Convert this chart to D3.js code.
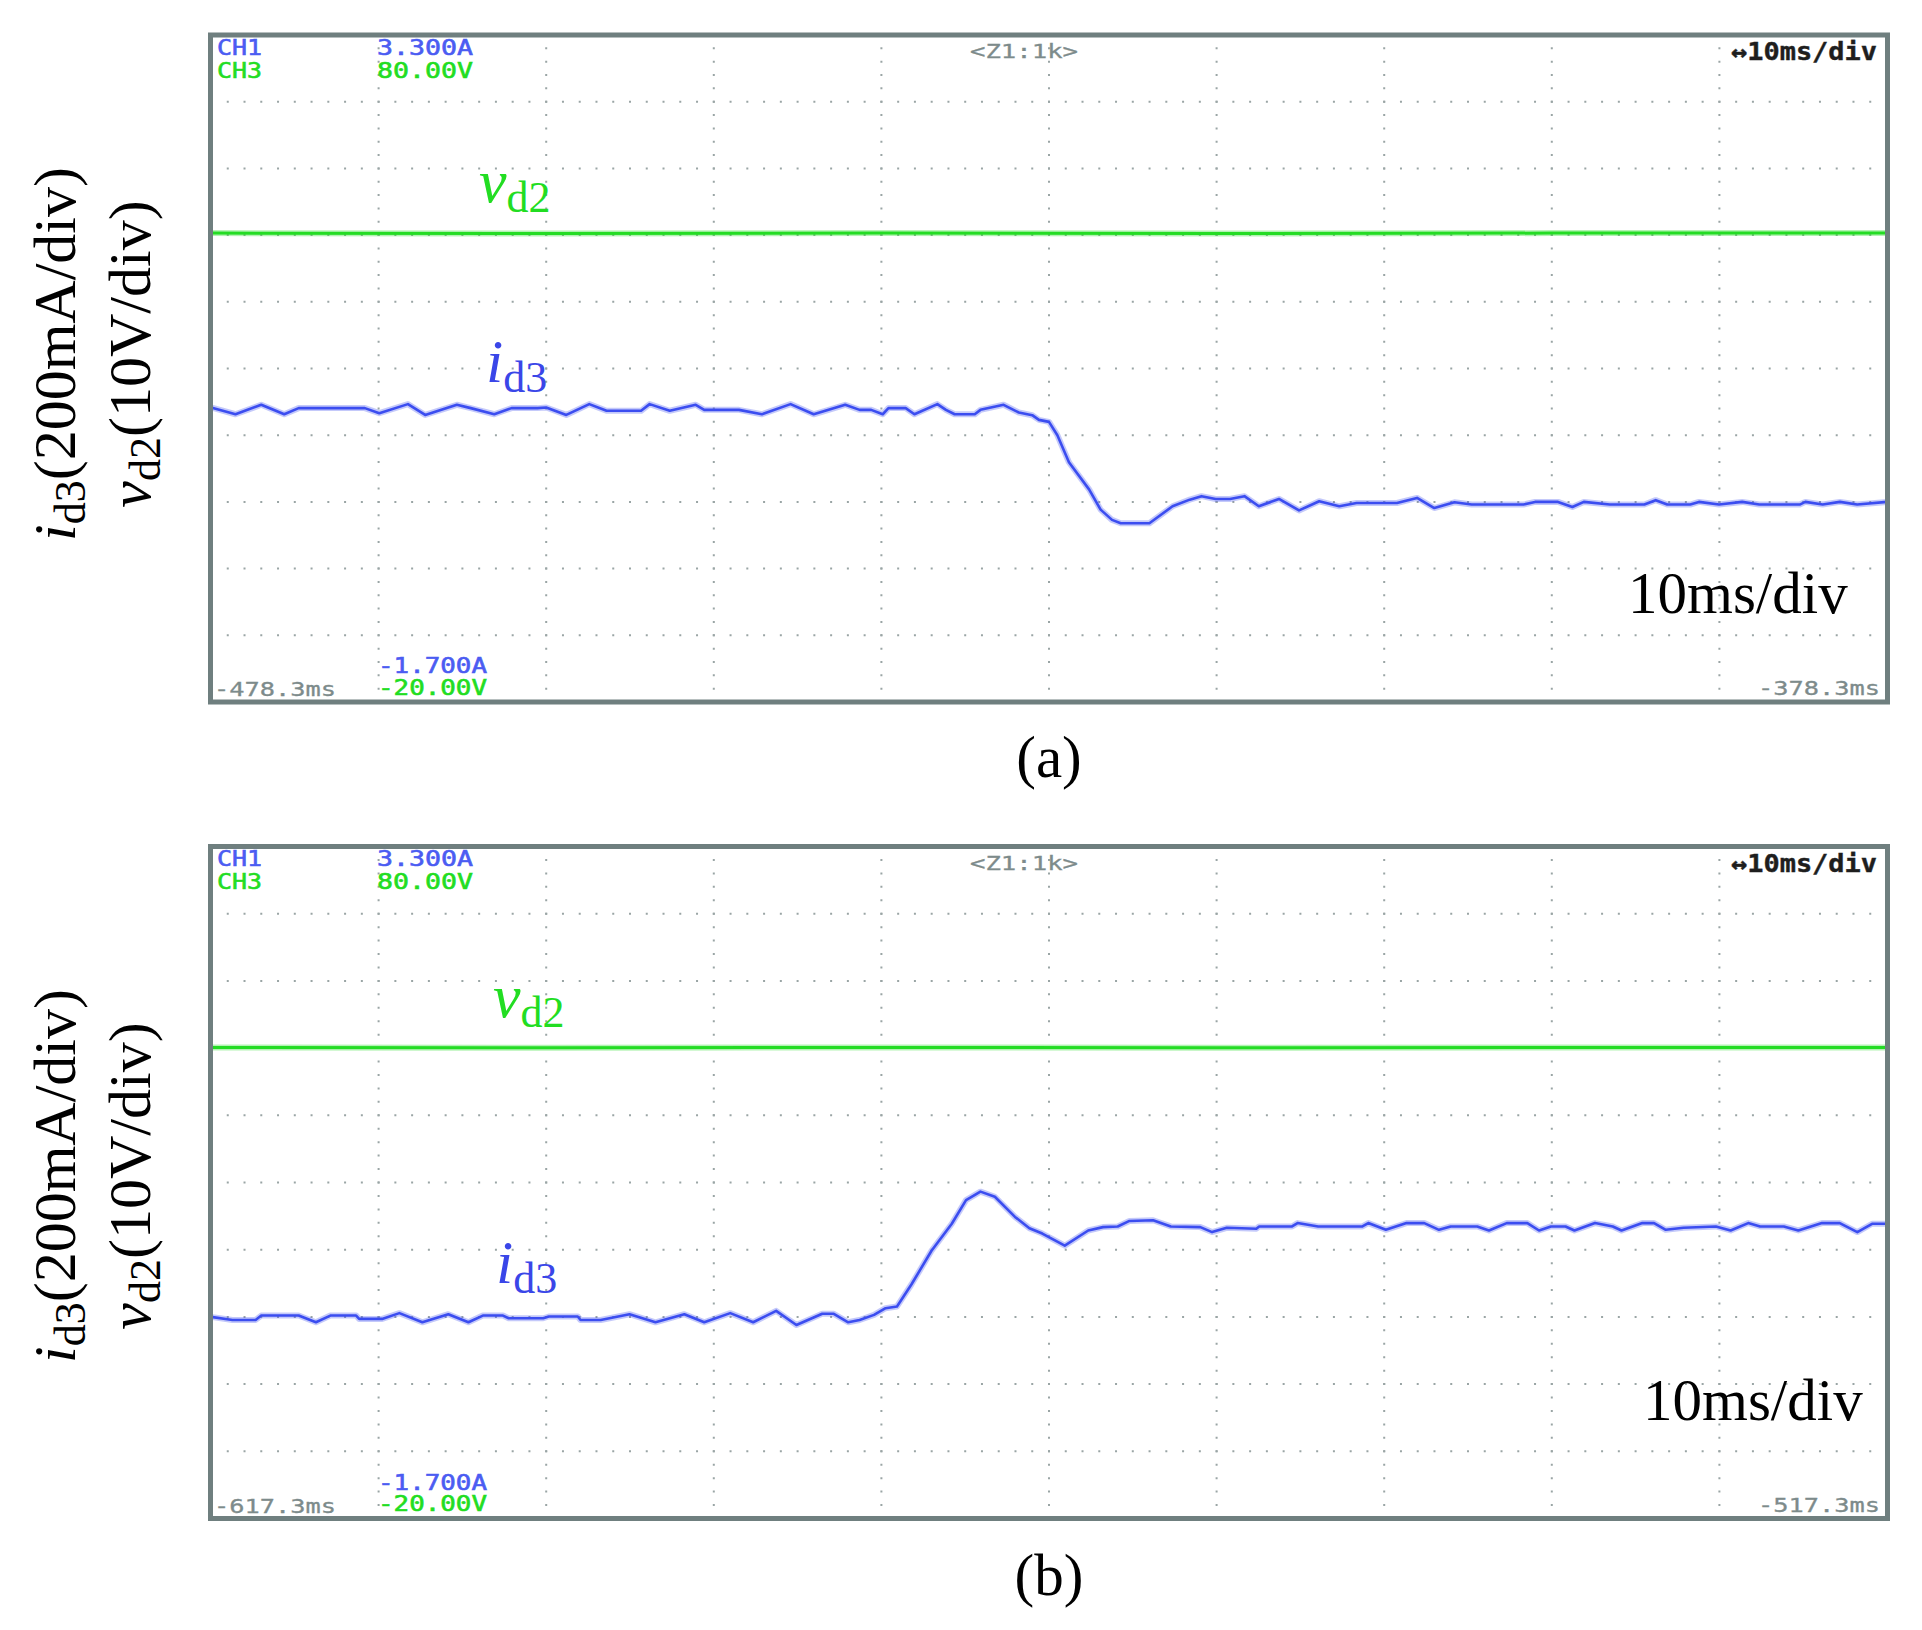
<!DOCTYPE html>
<html><head><meta charset="utf-8">
<script src="https://cdn.jsdelivr.net/npm/d3@7"></script>
<style>body{margin:0;background:#fff}</style>
</head><body>
<svg id="c" width="1922" height="1630" xmlns="http://www.w3.org/2000/svg"></svg>
<script>
// ---------------- DATA ----------------
// time in ms measured from the left edge of the screen (10 ms/div, 10 div)
const timeDomain = [0, 100];
// oscilloscope channel ranges (top / bottom of screen)
const currentDomain = [-1.7, 3.3];   // CH1, A
const voltageDomain = [-20, 80];     // CH3, V
const ch1Labels = ["3.300A", "-1.700A"];
const ch3Labels = ["80.00V", "-20.00V"];
const channelNames = ["CH1", "CH3"];
const zoomLabel = "<Z1:1k>";
const timebaseLabel = "\u219410ms/div";
const timeLabelsA = ["-478.3ms", "-378.3ms"];
const timeLabelsB = ["-617.3ms", "-517.3ms"];
const captions = ["(a)", "(b)"];

// panel (a): i_d3 [ms, A]
const id3A = [[0,0.508],[1.46,0.457],[3.0,0.528],[4.37,0.457],[5.23,0.503],[9.18,0.503],[10.04,0.465],[11.75,0.533],[12.78,0.452],[14.67,0.528],[15.5,0.503],[16.9,0.457],[17.93,0.503],[19.48,0.503],[20.0,0.508],[21.2,0.452],[22.57,0.533],[23.6,0.483],[25.66,0.483],[26.17,0.533],[27.37,0.483],[28.92,0.528],[29.43,0.49],[31.5,0.49],[32.87,0.457],[34.58,0.533],[35.96,0.457],[37.84,0.528],[38.7,0.49],[39.39,0.49],[40.08,0.457],[40.42,0.503],[41.45,0.503],[41.97,0.457],[43.34,0.533],[43.85,0.49],[44.37,0.457],[45.57,0.457],[45.91,0.49],[47.29,0.528],[48.2,0.47],[49.0,0.45],[49.4,0.415],[50.0,0.40],[50.5,0.30],[51.19,0.097],[52.39,-0.106],[53.08,-0.258],[53.76,-0.335],[54.28,-0.36],[55.99,-0.36],[57.37,-0.233],[58.4,-0.183],[59.1,-0.157],[59.94,-0.178],[60.8,-0.178],[61.66,-0.157],[62.52,-0.233],[63.72,-0.178],[64.92,-0.264],[66.12,-0.195],[67.32,-0.233],[68.35,-0.208],[70.76,-0.208],[71.96,-0.17],[72.99,-0.246],[74.19,-0.203],[75.22,-0.22],[78.31,-0.22],[79.0,-0.2],[80.37,-0.2],[81.23,-0.238],[81.91,-0.2],[83.46,-0.22],[85.52,-0.22],[86.2,-0.187],[86.89,-0.22],[88.26,-0.22],[88.78,-0.2],[89.98,-0.22],[91.36,-0.2],[92.38,-0.22],[94.79,-0.22],[95.13,-0.2],[96.16,-0.22],[97.19,-0.2],[98.22,-0.22],[100,-0.2]];
// panel (a): v_d2 [ms, V]
const vd2A = [[0,50.3],[20,50.25],[40,50.3],[60,50.25],[80,50.3],[100,50.3]];

// panel (b): i_d3 [ms, A]
const id3B = [[0,-0.20],[1.28,-0.223],[2.66,-0.223],[3.0,-0.19],[5.23,-0.19],[6.26,-0.24],[7.12,-0.19],[8.66,-0.19],[8.84,-0.215],[10.21,-0.215],[11.24,-0.172],[12.61,-0.24],[14.16,-0.18],[15.36,-0.24],[16.22,-0.19],[17.42,-0.19],[17.76,-0.21],[19.82,-0.21],[20.16,-0.197],[21.88,-0.197],[22.05,-0.223],[23.25,-0.223],[24.97,-0.18],[26.52,-0.24],[28.24,-0.18],[29.43,-0.24],[30.98,-0.172],[32.35,-0.24],[33.72,-0.155],[34.93,-0.26],[36.47,-0.177],[37.16,-0.177],[38.02,-0.24],[38.7,-0.223],[39.56,-0.185],[40.25,-0.135],[40.93,-0.122],[41.79,0.041],[42.99,0.292],[44.2,0.493],[45.05,0.669],[45.91,0.732],[46.77,0.694],[47.97,0.544],[48.83,0.46],[49.6,0.42],[50.94,0.33],[52.34,0.443],[53.22,0.468],[54.1,0.473],[54.8,0.514],[56.21,0.519],[57.27,0.473],[59.03,0.468],[59.73,0.431],[60.61,0.463],[62.37,0.456],[62.54,0.473],[64.5,0.473],[64.83,0.498],[66.06,0.473],[68.7,0.473],[69.05,0.498],[70.1,0.448],[71.33,0.498],[72.39,0.498],[73.27,0.448],[73.97,0.473],[75.55,0.473],[76.25,0.443],[77.31,0.498],[78.54,0.498],[79.24,0.443],[79.95,0.473],[80.82,0.473],[81.35,0.443],[82.58,0.498],[83.64,0.473],[84.16,0.443],[85.4,0.498],[86.1,0.498],[86.8,0.448],[87.86,0.463],[89.79,0.473],[90.67,0.443],[91.72,0.498],[92.43,0.473],[93.84,0.473],[94.71,0.443],[96.12,0.498],[97.18,0.498],[98.23,0.431],[99.11,0.493],[100,0.493]];
// panel (b): v_d2 [ms, V]
const vd2B = [[0,50.1],[20,50.05],[40,50.1],[60,50.05],[80,50.1],[100,50.1]];

// ---------------- LAYOUT / STYLE ----------------
const BLUE = "#3b4df0", GREEN = "#24dc24", GRAY = "#7d8b8b", BORDER = "#6f7f7f";
const TXT_BLUE = "#4b5cf2", TXT_GREEN = "#22dd22";
const SERIF = "'Liberation Serif','Times New Roman',serif";
const MONO = "'DejaVu Sans Mono','Liberation Mono',monospace";

const panelsCfg = [
  { x0:211, x1:1887, y0:35,    y1:702,  id3:id3A, vd2:vd2A, tl:timeLabelsA, cap:captions[0],
    capY:777, vLab:[479,202], iLab:[486,382], tbLab:[1628,613], yLabC:354, yLabX:[75,150] },
  { x0:211, x1:1887, y0:846.5, y1:1518.5, id3:id3B, vd2:vd2B, tl:timeLabelsB, cap:captions[1],
    capY:1595, vLab:[493,1017], iLab:[496,1283], tbLab:[1643,1420], yLabC:1176, yLabX:[75,150] }
];

const svg = d3.select("#c");

function scopeText(g, str, x, y, w, color, opts={}) {
  const t = g.append("text").attr("x", x).attr("y", y)
    .attr("font-family", MONO).attr("font-size", opts.size || 22)
    .attr("font-weight", opts.bold ? "bold" : "normal")
    .attr("fill", color).attr("text-anchor", opts.anchor || "start")
    .attr("stroke", color).attr("stroke-width", opts.sw == null ? 0.6 : opts.sw)
    .attr("textLength", w).attr("lengthAdjust", "spacingAndGlyphs")
    .text(str);
  return t;
}

panelsCfg.forEach(p => {
  const g = svg.append("g");
  const x = d3.scaleLinear().domain(timeDomain).range([p.x0, p.x1]);
  const yI = d3.scaleLinear().domain(currentDomain).range([p.y1, p.y0]);
  const yV = d3.scaleLinear().domain(voltageDomain).range([p.y1, p.y0]);
  const yDiv = d3.scaleLinear().domain([0, 10]).range([p.y1, p.y0]);

  // grid: dotted lines
  const xt = x.ticks(10).filter(v => v > timeDomain[0] && v < timeDomain[1]);
  const yt = d3.range(1, 10);
  const hStep = (x(10) - x(0)) / 10;
  const vStep = (yDiv(0) - yDiv(1)) / 5;
  g.selectAll(".hg").data(yt).join("line")
    .attr("x1", p.x0).attr("x2", p.x1)
    .attr("y1", d => yDiv(d)).attr("y2", d => yDiv(d))
    .attr("stroke", "#9aa5a5").attr("stroke-width", 2)
    .attr("stroke-dasharray", `2 ${hStep - 2}`).attr("stroke-dashoffset", 1);
  g.selectAll(".vg").data(xt).join("line")
    .attr("x1", d => x(d)).attr("x2", d => x(d))
    .attr("y1", p.y0).attr("y2", p.y1)
    .attr("stroke", "#9aa5a5").attr("stroke-width", 2)
    .attr("stroke-dasharray", `2 ${vStep - 2}`).attr("stroke-dashoffset", 1);

  // traces
  const lineV = d3.line().x(d => x(d[0])).y(d => yV(d[1]));
  const lineI = d3.line().x(d => x(d[0])).y(d => yI(d[1]));
  g.append("path").attr("d", lineV(p.vd2)).attr("fill", "none")
    .attr("stroke", GREEN).attr("stroke-opacity", 0.35).attr("stroke-width", 6);
  g.append("path").attr("d", lineV(p.vd2)).attr("fill", "none")
    .attr("stroke", GREEN).attr("stroke-width", 3);
  g.append("path").attr("d", lineI(p.id3)).attr("fill", "none")
    .attr("stroke", BLUE).attr("stroke-opacity", 0.3).attr("stroke-width", 6)
    .attr("stroke-linejoin", "round");
  g.append("path").attr("d", lineI(p.id3)).attr("fill", "none")
    .attr("stroke", BLUE).attr("stroke-width", 2.6).attr("stroke-linejoin", "round");

  // scope annotations
  scopeText(g, channelNames[0], p.x0 + 6, p.y0 + 19.5, 45, TXT_BLUE);
  scopeText(g, channelNames[1], p.x0 + 6, p.y0 + 42.5, 45, TXT_GREEN);
  scopeText(g, ch1Labels[0], p.x0 + 166, p.y0 + 19.5, 96, TXT_BLUE);
  scopeText(g, ch3Labels[0], p.x0 + 166, p.y0 + 42.5, 96, TXT_GREEN);
  scopeText(g, zoomLabel, (p.x0 + p.x1) / 2 - 79, p.y0 + 23, 108, GRAY, {size:20, sw:0.3});
  scopeText(g, timebaseLabel, p.x1 - 156, p.y0 + 25, 146, "#1e1e1e", {size:25, bold:true, sw:0.4});
  scopeText(g, ch1Labels[1], p.x0 + 167, p.y1 - 29, 109, TXT_BLUE);
  scopeText(g, ch3Labels[1], p.x0 + 167, p.y1 - 7.5, 109, TXT_GREEN);
  scopeText(g, p.tl[0], p.x0 + 3, p.y1 - 6, 122, GRAY, {size:20, sw:0.3});
  scopeText(g, p.tl[1], p.x1 - 7, p.y1 - 7, 122, GRAY, {size:20, anchor:"end", sw:0.3});

  // border
  g.append("rect").attr("x", p.x0 - 0.5).attr("y", p.y0).attr("width", p.x1 - p.x0 + 1)
    .attr("height", p.y1 - p.y0).attr("fill", "none")
    .attr("stroke", BORDER).attr("stroke-width", 5);

  // in-plot trace labels
  const vt = g.append("text").attr("x", p.vLab[0]).attr("y", p.vLab[1])
    .attr("font-family", SERIF).attr("fill", TXT_GREEN);
  vt.append("tspan").attr("font-size", 62).attr("font-style", "italic").text("v");
  vt.append("tspan").attr("font-size", 44).attr("dy", 10).text("d2");
  const it = g.append("text").attr("x", p.iLab[0]).attr("y", p.iLab[1])
    .attr("font-family", SERIF).attr("fill", "#3a46e8");
  it.append("tspan").attr("font-size", 62).attr("font-style", "italic").text("i");
  it.append("tspan").attr("font-size", 44).attr("dy", 10).text("d3");

  g.append("text").attr("x", p.tbLab[0]).attr("y", p.tbLab[1])
    .attr("font-family", SERIF).attr("font-size", 59).attr("fill", "#000")
    .text("10ms/div");

  // y-axis labels (rotated)
  const l1 = g.append("text").attr("transform", `translate(${p.yLabX[0]},${p.yLabC}) rotate(-90)`)
    .attr("text-anchor", "middle").attr("font-family", SERIF).attr("fill", "#000");
  l1.append("tspan").attr("font-size", 60).attr("font-style", "italic").text("i");
  l1.append("tspan").attr("font-size", 44).attr("dy", 10).text("d3");
  l1.append("tspan").attr("font-size", 60).attr("dy", -10).text("(200mA/div)");
  const l2 = g.append("text").attr("transform", `translate(${p.yLabX[1]},${p.yLabC}) rotate(-90)`)
    .attr("text-anchor", "middle").attr("font-family", SERIF).attr("fill", "#000");
  l2.append("tspan").attr("font-size", 60).attr("font-style", "italic").text("v");
  l2.append("tspan").attr("font-size", 44).attr("dy", 10).text("d2");
  l2.append("tspan").attr("font-size", 60).attr("dy", -10).text("(10V/div)");

  // caption
  svg.append("text").attr("x", (p.x0 + p.x1) / 2).attr("y", p.capY)
    .attr("text-anchor", "middle").attr("font-family", SERIF).attr("font-size", 59)
    .attr("fill", "#000").text(p.cap);
});
</script>
</body></html>
